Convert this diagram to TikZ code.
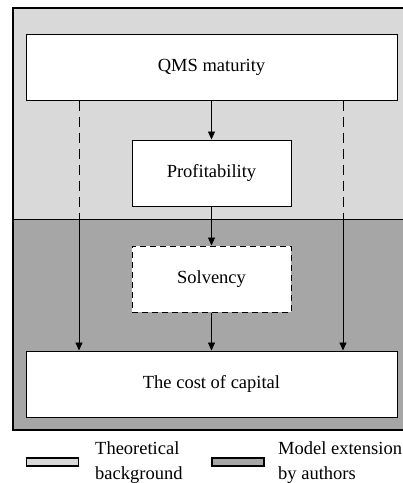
\documentclass[tikz,border=0pt]{standalone}
\usepackage{fontspec}
\setmainfont{Liberation Serif}
\usetikzlibrary{arrows.meta}
\definecolor{lightbg}{HTML}{D9D9D9}
\definecolor{darkbg}{HTML}{A6A6A6}
\begin{document}
\begin{tikzpicture}[x=1pt,y=-1pt,
  box/.style={draw=black,line width=1pt,fill=white,inner sep=0pt,font=\fontsize{18.5}{20}\selectfont},
  conn/.style={line width=0.9pt,-{Triangle[length=8pt,width=7pt]}},
  sidedash/.style={line width=0.9pt,dash pattern=on 10pt off 6pt},
  swatch/.style={draw=black,line width=1.3pt},
  legtext/.style={font=\fontsize{18.5}{25}\selectfont,align=left,anchor=west,inner sep=0pt}]
\useasboundingbox (0,0) rectangle (403,483);
\begin{scope}
\clip (0,0) rectangle (403,483);
\fill[lightbg] (13,8) rectangle (410,219);
\fill[darkbg] (13,219) rectangle (410,430);
\draw[line width=0.9pt] (13,219) -- (410,219);
\draw[line width=1.5pt] (13,8) rectangle (410,430);
\end{scope}
\node[box,minimum width=371pt,minimum height=66pt] (qms) at (211.5,67) {QMS maturity};
\node[box,minimum width=159pt,minimum height=66pt] (prof) at (211.5,173) {Profitability};
\node[box,dashed,dash pattern=on 6pt off 4pt,minimum width=159pt,minimum height=66pt] (solv) at (211.5,279) {Solvency};
\node[box,minimum width=371pt,minimum height=66pt] (cost) at (211.5,384) {The cost of capital};
\draw[conn] (qms) -- (prof);
\draw[conn] (prof) -- (solv);
\draw[conn] (solv) -- (cost);
\coordinate (lm) at (79,219);
\coordinate (rm) at (343,219);
\draw[sidedash] (qms.south -| lm) -- (lm);
\draw[sidedash] (qms.south -| rm) -- (rm);
\draw[conn] (lm) -- (lm |- cost.north);
\draw[conn] (rm) -- (rm |- cost.north);
\node[swatch,fill=lightbg,minimum width=52pt,minimum height=8pt,inner sep=0pt] (sw1) at (52.5,462) {};
\node[legtext] (t1) at (95,462.5) {Theoretical\\background};
\node[swatch,fill=darkbg,minimum width=52pt,minimum height=8pt,inner sep=0pt] (sw2) at (238,462) {};
\node[legtext] (t2) at (278,462.5) {Model extension\\by authors};
\end{tikzpicture}
\end{document}
